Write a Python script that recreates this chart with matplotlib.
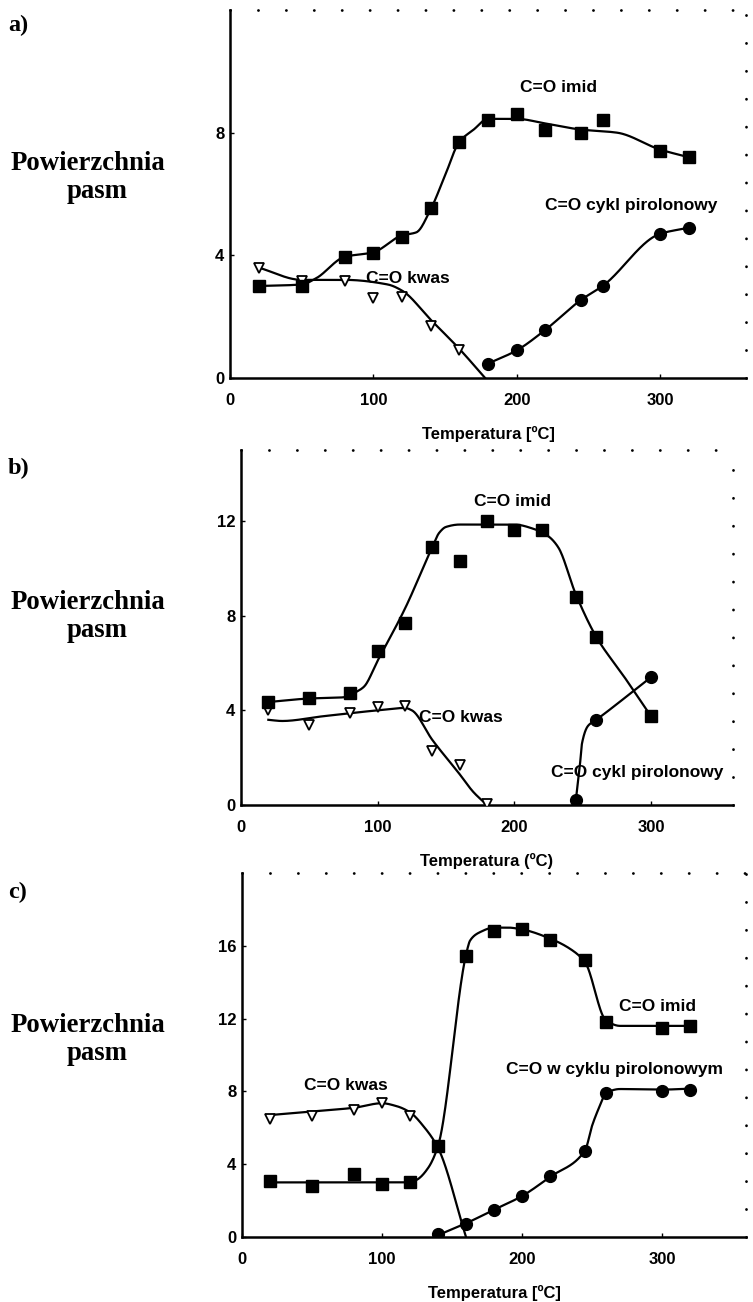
import numpy as np
import matplotlib
matplotlib.use("Agg")
import matplotlib.pyplot as plt
from matplotlib.font_manager import FontProperties

# ---------------- data ----------------
# panel a
a_imid_x = [20, 50, 80, 100, 120, 140, 160, 180, 200, 220, 245, 260, 300, 320]
a_imid_y = [3.0, 3.0, 3.95, 4.07, 4.6, 5.55, 7.7, 8.4, 8.6, 8.1, 8.0, 8.4, 7.4, 7.2]
a_kwas_x = [20, 50, 80, 100, 120, 140, 160]
a_kwas_y = [3.6, 3.15, 3.15, 2.6, 2.65, 1.7, 0.9]
a_pir_x = [180, 200, 220, 245, 260, 300, 320]
a_pir_y = [0.47, 0.9, 1.57, 2.55, 3.0, 4.7, 4.9]
a_imid_cx = [20, 50, 60, 80, 100, 120, 130, 140, 150, 160, 170, 180, 200, 220, 245, 270, 300, 320]
a_imid_cy = [3.0, 3.05, 3.25, 3.95, 4.1, 4.65, 4.75, 5.5, 6.6, 7.7, 8.1, 8.45, 8.45, 8.3, 8.1, 8.0, 7.45, 7.2]
a_kwas_cx = [20, 50, 80, 110, 120, 140, 160, 178]
a_kwas_cy = [3.6, 3.2, 3.2, 3.05, 2.85, 1.9, 0.95, 0.0]
a_pir_cx = a_pir_x
a_pir_cy = a_pir_y

# panel b
b_imid_x = [20, 50, 80, 100, 120, 140, 160, 180, 200, 220, 245, 260, 300]
b_imid_y = [4.37, 4.54, 4.72, 6.5, 7.7, 10.9, 10.3, 12.0, 11.6, 11.6, 8.8, 7.1, 3.77]
b_kwas_x = [20, 50, 80, 100, 120, 140, 160, 180]
b_kwas_y = [4.0, 3.4, 3.9, 4.15, 4.2, 2.3, 1.7, 0.05]
b_pir_x = [245, 260, 300]
b_pir_y = [0.2, 3.6, 5.4]
b_imid_cx = [20, 50, 75, 85, 90, 100, 120, 140, 145, 150, 160, 200, 215, 225, 232, 245, 260, 280, 300]
b_imid_cy = [4.35, 4.5, 4.55, 4.8, 5.0, 6.1, 8.3, 10.9, 11.5, 11.75, 11.85, 11.85, 11.65, 11.35, 10.9, 8.9, 7.1, 5.45, 3.75]
b_kwas_cx = [20, 30, 60, 100, 120, 125, 140, 160, 170, 180]
b_kwas_cy = [3.6, 3.55, 3.75, 4.0, 4.1, 4.0, 2.75, 1.3, 0.55, 0.0]
b_pir_cx = [245, 248, 249.5, 254, 260, 300]
b_pir_cy = [0.2, 1.7, 2.6, 3.35, 3.6, 5.4]

# panel c
c_imid_x = [20, 50, 80, 100, 120, 140, 160, 180, 200, 220, 245, 260, 300, 320]
c_imid_y = [3.1, 2.8, 3.45, 2.9, 3.0, 5.0, 15.45, 16.8, 16.9, 16.3, 15.2, 11.8, 11.5, 11.6]
c_kwas_x = [20, 50, 80, 100, 120, 140]
c_kwas_y = [6.5, 6.67, 6.98, 7.37, 6.67, 5.0]
c_pir_x = [140, 160, 180, 200, 220, 245, 260, 300, 320]
c_pir_y = [0.15, 0.73, 1.5, 2.23, 3.33, 4.7, 7.9, 8.0, 8.1]
c_imid_cx = [20, 120, 125, 133, 140, 160, 163, 170, 180, 190, 200, 220, 235, 245, 260, 270, 300, 320]
c_imid_cy = [3.0, 3.0, 3.15, 3.8, 5.0, 15.5, 16.3, 16.75, 17.0, 17.0, 16.9, 16.4, 15.8, 15.1, 11.9, 11.6, 11.6, 11.6]
c_kwas_cx = [20, 50, 80, 100, 110, 120, 130, 140, 160]
c_kwas_cy = [6.7, 6.9, 7.1, 7.35, 7.2, 6.85, 6.05, 4.9, 0.0]
c_pir_cx = [140, 160, 180, 200, 220, 245, 250, 255, 260, 270, 300, 320]
c_pir_cy = [0.1, 0.75, 1.5, 2.25, 3.3, 4.75, 6.1, 7.1, 7.9, 8.13, 8.1, 8.15]

x_ticks = [0, 100, 200, 300]
a_yticks = [0, 4, 8]
b_yticks = [0, 4, 8, 12]
c_yticks = [0, 4, 8, 12, 16]

a_labels = ["C=O imid", "C=O cykl pirolonowy", "C=O kwas"]
b_labels = ["C=O imid", "C=O kwas", "C=O cykl pirolonowy"]
c_labels = ["C=O imid", "C=O w cyklu pirolonowym", "C=O kwas"]
panel_tags = ["a)", "b)", "c)"]
xlabels = ["Temperatura [ºC]", "Temperatura (ºC)", "Temperatura [ºC]"]


def pchip(x, y, xs):
    x = np.asarray(x, float); y = np.asarray(y, float)
    h = np.diff(x); d = np.diff(y) / h
    n = len(x)
    m = np.zeros(n)
    if n == 2:
        m[:] = d[0]
    else:
        for k in range(1, n - 1):
            if d[k - 1] * d[k] > 0:
                w1 = 2 * h[k] + h[k - 1]; w2 = h[k] + 2 * h[k - 1]
                m[k] = (w1 + w2) / (w1 / d[k - 1] + w2 / d[k])
            else:
                m[k] = 0.0
        m[0] = d[0]; m[-1] = d[-1]
    idx = np.clip(np.searchsorted(x, xs) - 1, 0, n - 2)
    t = (xs - x[idx]) / h[idx]
    h00 = 2 * t**3 - 3 * t**2 + 1; h10 = t**3 - 2 * t**2 + t
    h01 = -2 * t**3 + 3 * t**2; h11 = t**3 - t**2
    return h00 * y[idx] + h10 * h[idx] * m[idx] + h01 * y[idx + 1] + h11 * h[idx] * m[idx + 1]


def curve(ax, cx, cy):
    xs = np.linspace(cx[0], cx[-1], 600)
    ax.plot(xs, pchip(cx, cy, xs), color="black", lw=1.6, zorder=2)


W, H = 753, 1302
fig = plt.figure(figsize=(W / 100, H / 100), dpi=100)
fig.patch.set_facecolor("white")

panels = [
    dict(box=(230, 746, 10, 378), yt=a_yticks, ymax=12),
    dict(box=(241, 733, 450, 805), yt=b_yticks, ymax=15),
    dict(box=(242, 746, 873, 1237), yt=c_yticks, ymax=20),
]

tick_fp = FontProperties(family="Liberation Sans", weight="bold", size=12)
axes = []
for i, p in enumerate(panels):
    l, r, t, b = p["box"]
    ax = fig.add_axes([l / W, 1 - b / H, (r - l) / W, (b - t) / H])
    ax.set_xlim(0, 360)
    ax.set_ylim(0, p["ymax"])
    ax.set_xticks(x_ticks)
    ax.set_yticks(p["yt"])
    ax.tick_params(direction="in", length=3, width=1, pad=4)
    ax.tick_params(axis="x", pad=10.5)
    for lab in ax.get_xticklabels() + ax.get_yticklabels():
        lab.set_fontproperties(tick_fp)
    for s in ["left", "bottom"]:
        ax.spines[s].set_linewidth(1.8)
    for s in ["top", "right"]:
        ax.spines[s].set_linewidth(2.0)
        ax.spines[s].set_linestyle((0, (0.05, 10)))
        ax.spines[s].set_capstyle("round")
    ax.set_xlabel(xlabels[i], fontfamily="Liberation Sans", fontweight="bold", fontsize=12, labelpad=13)
    axes.append(ax)

sq = dict(marker="s", ms=9, color="black", ls="none", zorder=4)
ci = dict(marker="o", ms=8.5, color="black", ls="none", zorder=4)
tr = dict(marker="v", ms=7, mfc="white", mec="black", mew=1.3, ls="none", zorder=3)
ann = dict(fontfamily="Liberation Sans", fontweight="bold", fontsize=12.5, ha="center", va="center", zorder=5)

# panel a
ax = axes[0]
curve(ax, a_imid_cx, a_imid_cy); curve(ax, a_kwas_cx, a_kwas_cy); curve(ax, a_pir_cx, a_pir_cy)
ax.plot(a_kwas_x, a_kwas_y, **tr)
ax.plot(a_imid_x, a_imid_y, **sq)
ax.plot(a_pir_x, a_pir_y, **ci)
ax.text(229, 9.46, a_labels[0], **ann)
ax.text(280, 5.64, a_labels[1], **ann)
ax.text(124, 3.26, a_labels[2], **ann)

# panel b
ax = axes[1]
curve(ax, b_imid_cx, b_imid_cy); curve(ax, b_kwas_cx, b_kwas_cy); curve(ax, b_pir_cx, b_pir_cy)
ax.plot(b_kwas_x, b_kwas_y, **tr)
ax.plot(b_imid_x, b_imid_y, **sq)
ax.plot(b_pir_x, b_pir_y, **ci)
ax.text(199, 12.84, b_labels[0], **ann)
ax.text(161, 3.68, b_labels[1], **ann)
ax.text(290, 1.39, b_labels[2], **ann)

# panel c
ax = axes[2]
curve(ax, c_imid_cx, c_imid_cy); curve(ax, c_kwas_cx, c_kwas_cy); curve(ax, c_pir_cx, c_pir_cy)
ax.plot(c_kwas_x, c_kwas_y, **tr)
ax.plot(c_imid_x, c_imid_y, **sq)
ax.plot(c_pir_x, c_pir_y, **ci)
ax.text(297, 12.64, c_labels[0], **ann)
ax.text(266, 9.23, c_labels[1], **ann)
ax.text(74, 8.3, c_labels[2], **ann)

# left side labels
serif = dict(family="Liberation Serif", weight="bold")
tag_y = [25, 468, 892]
pow_y = [163, 603, 1025]
for tg, ty, py in zip(panel_tags, tag_y, pow_y):
    fig.text(8 / W, 1 - ty / H, tg, ha="left", va="center", fontsize=17.5, **serif)
    fig.text(88 / W, 1 - py / H, "Powierzchnia", ha="center", va="center", fontsize=19.3, **serif)
    fig.text(97 / W, 1 - (py + 28) / H, "pasm", ha="center", va="center", fontsize=19.3, **serif)

fig.savefig("out.png", dpi=100, facecolor="white")
